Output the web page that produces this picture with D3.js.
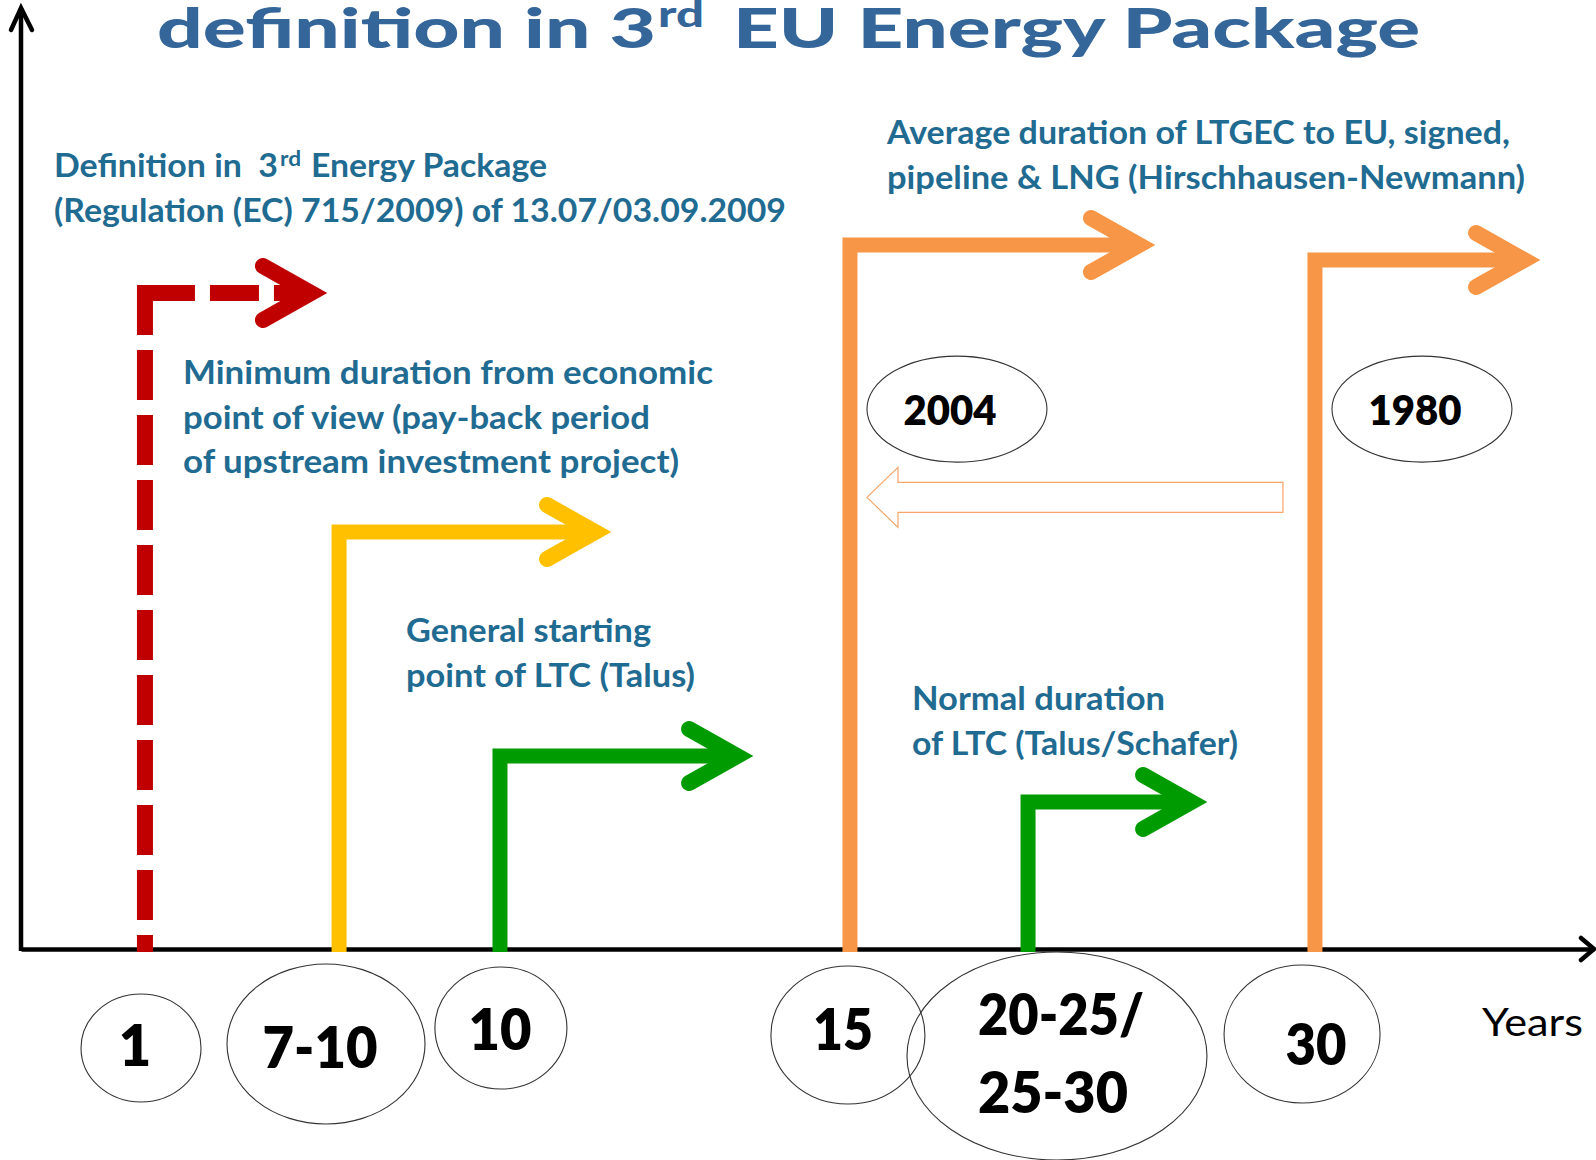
<!DOCTYPE html>
<html><head><meta charset="utf-8">
<script src="https://cdn.jsdelivr.net/npm/d3@7"></script>
<style>
html,body{margin:0;padding:0;background:#fff;}
svg{display:block;}
text{white-space:pre;}
</style></head><body>
<svg id="chart" width="1596" height="1160"></svg>
<script>
// ---------------- data ----------------
const categories   = ["1", "7-10", "10", "15", "20-25/25-30", "30"];   // duration (years)
const timelinePos  = [7.88, 20.22, 30.45, 52.70, 64.02, 82.26];        // schematic position on the time axis
const arrowHeight  = [69.86, 44.41, 20.55, 74.97, 15.65, 73.38];        // schematic height of each bent arrow
const arrowReach   = [19.45, 37.51, 46.54, 72.09, 75.40, 96.57];        // where each arrow points to
const arrowGroup   = ["eu", "econ", "start", "avg", "normal", "avg"];
const eraLabels    = ["2004", "1980"];
const axisLabel    = "Years";
const titleParts   = ["definition in 3", "rd", "EU Energy Package"];
const annotationEU     = [["Definition in  3", "rd", "Energy Package"], ["(Regulation (EC) 715/2009) of 13.07/03.09.2009"]];
const annotationAvg    = ["Average duration of LTGEC to EU, signed,", "pipeline & LNG (Hirschhausen-Newmann)"];
const annotationEcon   = ["Minimum duration from economic", "point of view (pay-back period", "of upstream investment project)"];
const annotationStart  = ["General starting", "point of LTC (Talus)"];
const annotationNormal = ["Normal duration", "of LTC (Talus/Schafer)"];

// ---------------- styles / layout ----------------
const colors = {eu:"#C00000", econ:"#FFC000", start:"#009B00", normal:"#009B00", avg:"#F79646"};
const TITLE_COLOR = "#346699", NOTE_COLOR = "#1F6B91";
const FONT = "Lato, 'Open Sans', sans-serif";
const SW = 15;

const svg = d3.select("#chart");
const x = d3.scaleLinear().domain([0, 100]).range([21, 1594]);
const y = d3.scaleLinear().domain([0, 100]).range([949, 10]);

// ---------------- axes ----------------
const xAxis = d3.axisBottom(x).ticks(0).tickSizeOuter(0);
const yAxis = d3.axisLeft(y).ticks(0).tickSizeOuter(0);
svg.append("g").attr("transform", `translate(0,${y(0)})`).call(xAxis)
  .call(g => g.select(".domain").attr("stroke", "#000").attr("stroke-width", 4.5));
svg.append("g").attr("transform", `translate(${x(0)},0)`).call(yAxis)
  .call(g => g.select(".domain").attr("stroke", "#000").attr("stroke-width", 4.5).attr("d", `M0,${y(0)+2}V${y(100)-2}`));
// axis arrow heads
svg.append("path").attr("d", `M${x(100)-13},${y(0)-11} L${x(100)},${y(0)} L${x(100)-13},${y(0)+11}`)
  .attr("fill", "none").attr("stroke", "#000").attr("stroke-width", 4.5).attr("stroke-linecap", "round");
svg.append("path").attr("d", `M${x(0)-10},${y(100)+20} L${x(0)},${y(100)-2} L${x(0)+11},${y(100)+20}`)
  .attr("fill", "none").attr("stroke", "#000").attr("stroke-width", 4.5).attr("stroke-linecap", "round");

// ---------------- bent arrows ----------------
categories.forEach((c, i) => {
  const g = svg.append("g").attr("class", "arrow");
  const col = colors[arrowGroup[i]];
  const x0 = x(timelinePos[i]);
  const yb = y(0) + 3;
  const y1 = y(arrowHeight[i]);
  const tipC = x(arrowReach[i]) - 16;
  if (arrowGroup[i] === "eu") {
    g.append("path").attr("d", `M${x0},${y1 - 8} L${x0},${yb}`)
      .attr("stroke", col).attr("stroke-width", SW + 1).attr("fill", "none").attr("stroke-dasharray", "50,15");
    g.append("path").attr("d", `M${x0 + 1},${y1} L${tipC - 6},${y1}`)
      .attr("stroke", col).attr("stroke-width", SW + 1).attr("fill", "none").attr("stroke-dasharray", "49,15");
  } else {
    g.append("path").attr("d", `M${x0},${yb} L${x0},${y1} L${tipC - 6},${y1}`)
      .attr("stroke", col).attr("stroke-width", SW).attr("fill", "none").attr("stroke-linejoin", "miter");
  }
  g.append("path").attr("d", `M${tipC - 48},${y1 - 27} L${tipC},${y1} L${tipC - 48},${y1 + 27}`)
    .attr("stroke", col).attr("stroke-width", SW + 1).attr("fill", "none")
    .attr("stroke-linejoin", "miter").attr("stroke-miterlimit", 10).attr("stroke-linecap", "round");
});

// ---------------- duration badges below the axis ----------------
const badgeLayout = [
  {pos: 7.63,  cy: 99,  rx: 60,  ry: 54,  lines: [{dx: -6, dy: 18, len: 0}]},
  {pos: 19.39, cy: 95,  rx: 99,  ry: 80,  lines: [{dx: -6, dy: 24, len: 115}]},
  {pos: 30.51, cy: 79,  rx: 66,  ry: 61,  lines: [{dx: -1, dy: 22, len: 63}]},
  {pos: 52.57, cy: 86,  rx: 77,  ry: 69,  lines: [{dx: -5, dy: 15, len: 60}]},
  {pos: 65.86, cy: 107, rx: 150, ry: 104, lines: [{dx: -79, dy: -21, len: 166, left: true}, {dx: -79, dy: 57, len: 150, left: true}]},
  {pos: 81.44, cy: 85,  rx: 78,  ry: 69,  lines: [{dx: 14, dy: 31, len: 61}]}
];
categories.forEach((c, i) => {
  const L = badgeLayout[i];
  const cx = x(L.pos), cy = y(0) + L.cy;
  svg.append("ellipse").attr("cx", cx).attr("cy", cy).attr("rx", L.rx).attr("ry", L.ry)
    .attr("fill", "none").attr("stroke", "#333").attr("stroke-width", 1.1);
  const parts = c.includes("/") ? [c.slice(0, c.indexOf("/") + 1), c.slice(c.indexOf("/") + 1)] : [c];
  parts.forEach((p, j) => {
    const ln = L.lines[j];
    const t = svg.append("text").attr("x", cx + ln.dx).attr("y", cy + ln.dy)
      .attr("text-anchor", ln.left ? "start" : "middle")
      .attr("font-family", FONT).attr("font-weight", 800).attr("font-size", 56).attr("fill", "#000").text(p);
    if (ln.len) t.attr("textLength", ln.len).attr("lengthAdjust", "spacingAndGlyphs");
  });
});

svg.append("text").attr("x", 1482).attr("y", y(0) + 87).attr("font-family", FONT).attr("font-size", 38)
  .attr("fill", "#000").attr("textLength", 101).attr("lengthAdjust", "spacingAndGlyphs").text(axisLabel);

// ---------------- era ellipses + shift arrow ----------------
const eraStems = [3, 5];
eraLabels.forEach((lab, k) => {
  const cx = x(timelinePos[eraStems[k]]) + 107, cy = y(57.5);
  svg.append("ellipse").attr("cx", cx).attr("cy", cy).attr("rx", 90).attr("ry", 53)
    .attr("fill", "none").attr("stroke", "#333").attr("stroke-width", 1.1);
  svg.append("text").attr("x", cx - 7).attr("y", cy + 16).attr("text-anchor", "middle")
    .attr("font-family", FONT).attr("font-weight", 800).attr("font-size", 42).attr("fill", "#000")
    .attr("textLength", 93).attr("lengthAdjust", "spacingAndGlyphs").text(lab);
});
{
  const xl = x(timelinePos[3]) + 17, xr = x(timelinePos[5]) - 32, yc = y(48.1);
  const pts = [[xl, yc], [xl + 31, yc - 30], [xl + 31, yc - 15], [xr, yc - 15], [xr, yc + 15], [xl + 31, yc + 15], [xl + 31, yc + 30]];
  svg.append("path").attr("d", d3.line()(pts) + "Z").attr("fill", "none")
    .attr("stroke", "#F7A469").attr("stroke-width", 1.2);
}

// ---------------- text annotations ----------------
function textLine(xp, yp, str, len, size, color, weight) {
  const t = svg.append("text").attr("x", xp).attr("y", yp).attr("font-family", FONT)
    .attr("font-weight", weight || 700).attr("font-size", size).attr("fill", color).text(str);
  if (len) t.attr("textLength", len).attr("lengthAdjust", "spacingAndGlyphs");
  return t;
}
// title
textLine(157, 48, titleParts[0], 499, 56, TITLE_COLOR, 900);
textLine(658, 27, titleParts[1], 46, 36, TITLE_COLOR, 900);
textLine(733, 48, titleParts[2], 687, 56, TITLE_COLOR, 900);

// EU definition
textLine(54, 176.7, annotationEU[0][0], 224, 32, NOTE_COLOR);
textLine(280, 166, annotationEU[0][1], 21, 21, NOTE_COLOR);
textLine(311, 176.7, annotationEU[0][2], 236, 32, NOTE_COLOR);
textLine(54, 221.7, annotationEU[1][0], 732, 32, NOTE_COLOR);

const noteBlocks = [
  {lines: annotationAvg,    x0: 887, y0: 144, dy: 44.5, lens: [623, 638]},
  {lines: annotationEcon,   x0: 183, y0: 384, dy: 44.5, lens: [530, 467, 496]},
  {lines: annotationStart,  x0: 406, y0: 642, dy: 45,   lens: [245, 289]},
  {lines: annotationNormal, x0: 912, y0: 710, dy: 45,   lens: [253, 326]}
];
noteBlocks.forEach(b => b.lines.forEach((l, j) =>
  textLine(b.x0, b.y0 + j * b.dy, l, b.lens[j], 32, NOTE_COLOR)));
</script>
</body></html>
